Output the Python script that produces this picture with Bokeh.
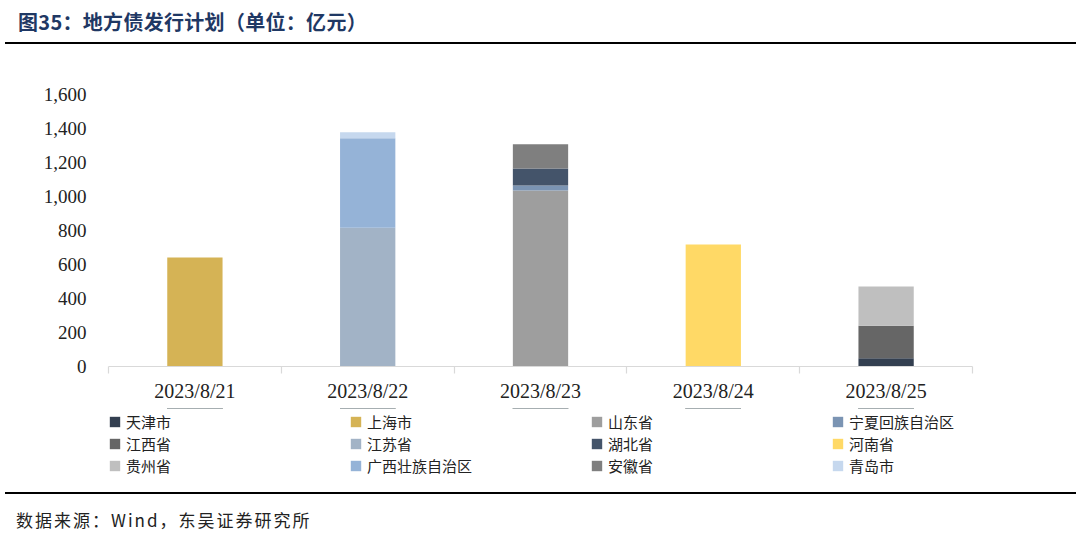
from bokeh.plotting import figure
from bokeh.layouts import column
from bokeh.models import (ColumnDataSource, Range1d, FixedTicker, NumeralTickFormatter,
                          Legend, LegendItem, Div)
from bokeh.embed import file_html
from bokeh.resources import INLINE

# ---------------- data ----------------
dates = ["2023/8/21", "2023/8/22", "2023/8/23", "2023/8/24", "2023/8/25"]
regions = ["天津市", "上海市", "山东省", "宁夏回族自治区",
           "江西省", "江苏省", "湖北省", "河南省",
           "贵州省", "广西壮族自治区", "安徽省", "青岛市"]
tianjin = [0, 0, 0, 0, 49]
shanghai = [641, 0, 0, 0, 0]
shandong = [0, 0, 1035, 0, 0]
ningxia = [0, 0, 30, 0, 0]
jiangxi = [0, 0, 0, 0, 190]
jiangsu = [0, 816, 0, 0, 0]
hubei = [0, 0, 100, 0, 0]
henan = [0, 0, 0, 718, 0]
guizhou = [0, 0, 0, 0, 231]
guangxi = [0, 527, 0, 0, 0]
anhui = [0, 0, 143, 0, 0]
qingdao = [0, 35, 0, 0, 0]
y_ticks = [0, 200, 400, 600, 800, 1000, 1200, 1400, 1600]
title_text = "图35：地方债发行计划（单位：亿元）"
source_text = "数据来源：Wind，东吴证券研究所"

series = [tianjin, shanghai, shandong, ningxia, jiangxi, jiangsu,
          hubei, henan, guizhou, guangxi, anhui, qingdao]
colors = ["#333f50", "#d5b355", "#9e9e9e", "#7b94b3",
          "#666666", "#a2b3c6", "#44546a", "#ffd966",
          "#bfbfbf", "#95b3d7", "#7f7f7f", "#c6d8ee"]

xs = list(range(len(dates)))
data = {"x": xs}
keys = []
for i, s in enumerate(series):
    k = f"s{i}"
    keys.append(k)
    data[k] = s
source = ColumnDataSource(data)

# ---------------- header ----------------
header = Div(width=1080, height=60, margin=0, text=(
    '<div style="position:absolute;left:18px;top:10px;line-height:24px;'
    'font-family:\'Noto Sans CJK SC\';font-weight:bold;font-size:20px;letter-spacing:0.3px;'
    f'color:#1f3864;white-space:nowrap">{title_text}</div>'
    '<div style="position:absolute;left:5px;top:42px;width:1071px;height:2.2px;'
    'background:#000"></div>'))

# ---------------- main chart ----------------
p = figure(width=1080, height=348, output_backend="svg", toolbar_location=None,
           x_range=Range1d(-0.5, len(dates) - 0.5), y_range=Range1d(0, 1600),
           min_border_left=108, min_border_right=108,
           min_border_top=34, min_border_bottom=42)
p.outline_line_color = None
p.grid.visible = False
p.background_fill_color = "white"
p.border_fill_color = "white"

renderers = p.vbar_stack(keys, x="x", width=0.32, fill_color=colors,
                         line_color=None, source=source)

xa = p.xaxis[0]
xa.ticker = FixedTicker(ticks=xs, minor_ticks=[x - 0.5 for x in xs] + [xs[-1] + 0.5])
xa.major_label_overrides = {x: d for x, d in zip(xs, dates)}
xa.axis_line_color = "#d9d9d9"
xa.axis_line_width = 1.2
xa.major_tick_line_color = None
xa.major_tick_out = 0
xa.major_tick_in = 0
xa.minor_tick_line_color = "#d9d9d9"
xa.minor_tick_line_width = 1.2
xa.minor_tick_out = 7
xa.minor_tick_in = 0
xa.major_label_standoff = 6
xa.major_label_text_font = "Liberation Serif"
xa.major_label_text_font_size = "20px"
xa.major_label_text_color = "#222222"

ya = p.yaxis[0]
ya.ticker = FixedTicker(ticks=y_ticks)
ya.formatter = NumeralTickFormatter(format="0,0")
ya.axis_line_color = None
ya.major_tick_line_color = None
ya.minor_tick_line_color = None
ya.major_tick_out = 0
ya.major_label_standoff = 22
ya.major_label_text_font = "Liberation Serif"
ya.major_label_text_font_size = "19px"
ya.major_label_text_color = "#222222"

# ---------------- legend strip ----------------
lf = figure(width=1080, height=82, output_backend="svg", toolbar_location=None,
            x_range=Range1d(-0.5, len(dates) - 0.5), y_range=Range1d(-2, -1),
            x_axis_location=None, y_axis_location=None,
            min_border_left=105, min_border_right=108,
            min_border_top=0, min_border_bottom=0)
lf.outline_line_color = None
lf.grid.visible = False
lf.background_fill_color = "white"
lf.border_fill_color = "white"
# same series (outside the strip's visible range) to key the legend swatches
key_renderers = lf.vbar_stack(keys, x="x", width=0.32, fill_color=colors,
                              line_color=None, source=source)

items = [LegendItem(label=name, renderers=[r]) for name, r in zip(regions, key_renderers)]
for row in range(3):
    lg = Legend(items=items[row * 4:(row + 1) * 4], orientation="horizontal",
                location=(0, 58 - 22 * row),
                glyph_width=13, glyph_height=13, label_standoff=5, label_width=220,
                label_height=19, spacing=3, padding=0, margin=0,
                border_line_color=None, background_fill_alpha=0,
                label_text_font="Noto Sans CJK SC", label_text_font_size="15px",
                label_text_color="#222222")
    lf.add_layout(lg)

# ---------------- footer ----------------
footer = Div(width=1080, height=46, margin=0, text=(
    '<div style="position:absolute;left:5px;top:2.3px;width:1071px;height:2.1px;'
    'background:#000"></div>'
    '<div style="position:absolute;left:16px;top:19px;line-height:22px;'
    'font-family:\'Noto Sans CJK SC\';font-size:17px;letter-spacing:2px;'
    f'color:#222222;white-space:nowrap">{source_text}</div>'))

layout = column(header, p, lf, footer, spacing=0)
open("out.html", "w").write(file_html(layout, INLINE))
